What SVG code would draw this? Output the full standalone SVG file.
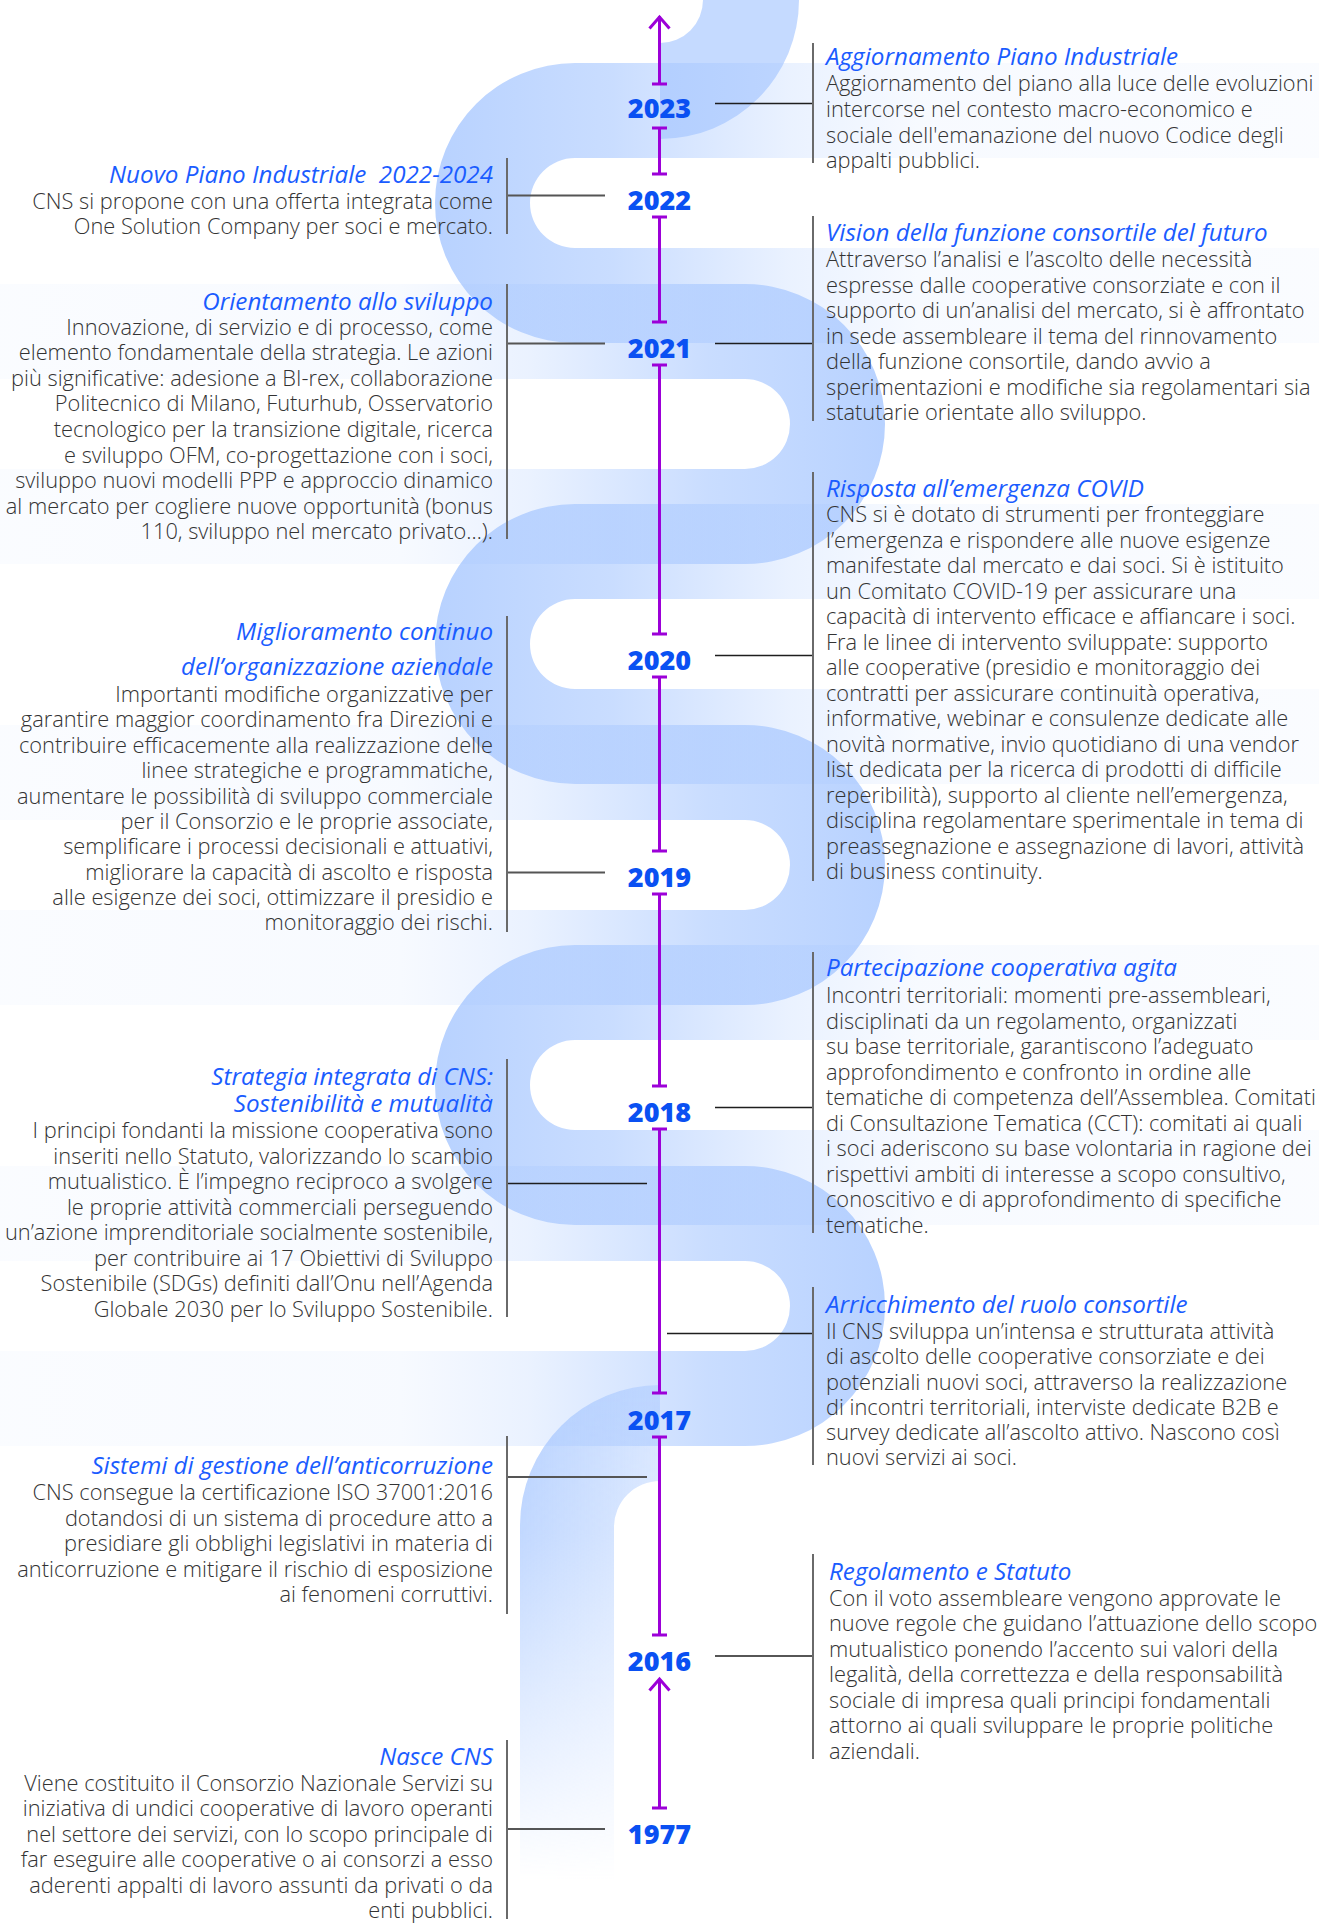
<svg xmlns="http://www.w3.org/2000/svg" width="1319" height="1932" viewBox="0 0 1319 1932">
  <style>
    .body { font-family: "Open Sans", "Liberation Sans", sans-serif; font-weight: 300; font-size: 21.8px; fill: #333333; }
    .title { font-family: "Open Sans", "Liberation Sans", sans-serif; font-style: italic; font-weight: 400; font-size: 24.2px; fill: #1a5cff; }
    .year { font-family: "Open Sans", "Liberation Sans", sans-serif; font-weight: 800; font-size: 27px; fill: #0a50f2; text-anchor: middle; }
    .left { text-anchor: end; }
    .axis { stroke: #9c00d8; stroke-width: 3; fill: none; stroke-linecap: butt; }
    .bracket { stroke: #6a6a6a; stroke-width: 2; fill: none; }
    .link { stroke: #1e1e1e; stroke-width: 1.6; fill: none; }
    .link-soft { stroke: #555555; stroke-width: 2; fill: none; }
  </style>
  <defs>
    <!-- turns opening to the right: strongest at the bend, fading to the right edge -->
    <linearGradient id="fadeRight" gradientUnits="userSpaceOnUse" x1="435" y1="0" x2="1319" y2="0">
      <stop offset="0" stop-color="#9fc2ff" stop-opacity="0.74"/>
      <stop offset="0.2" stop-color="#9fc2ff" stop-opacity="0.56"/>
      <stop offset="0.4" stop-color="#9fc2ff" stop-opacity="0.22"/>
      <stop offset="0.55" stop-color="#9fc2ff" stop-opacity="0.08"/>
      <stop offset="1" stop-color="#9fc2ff" stop-opacity="0.05"/>
    </linearGradient>
    <!-- turns opening to the left: strongest at the bend, fading to the left edge -->
    <linearGradient id="fadeLeft" gradientUnits="userSpaceOnUse" x1="885" y1="0" x2="0" y2="0">
      <stop offset="0" stop-color="#9fc2ff" stop-opacity="0.74"/>
      <stop offset="0.2" stop-color="#9fc2ff" stop-opacity="0.56"/>
      <stop offset="0.4" stop-color="#9fc2ff" stop-opacity="0.22"/>
      <stop offset="0.55" stop-color="#9fc2ff" stop-opacity="0.08"/>
      <stop offset="1" stop-color="#9fc2ff" stop-opacity="0.05"/>
    </linearGradient>
    <linearGradient id="tailFill" gradientUnits="userSpaceOnUse" x1="520" y1="0" x2="660" y2="0">
      <stop offset="0" stop-color="#9fc2ff" stop-opacity="0.75"/>
      <stop offset="1" stop-color="#9fc2ff" stop-opacity="0.4"/>
    </linearGradient>
    <linearGradient id="tailFade" gradientUnits="userSpaceOnUse" x1="0" y1="1385" x2="0" y2="1880">
      <stop offset="0" stop-color="#ffffff"/>
      <stop offset="0.3" stop-color="#ffffff" stop-opacity="0.85"/>
      <stop offset="1" stop-color="#ffffff" stop-opacity="0"/>
    </linearGradient>
    <mask id="tailMask" maskUnits="userSpaceOnUse" x="0" y="1300" width="1319" height="632">
      <rect x="0" y="1300" width="1319" height="632" fill="url(#tailFade)"/>
    </mask>
  </defs>

  <rect width="1319" height="1932" fill="#ffffff"/>

  <!-- serpentine ribbon behind the timeline -->
  <g id="ribbon">
    <path d="M703 0 A43 43 0 0 1 660 43 L660 139 A139 139 0 0 0 799 0 Z" fill="#9fc2ff" fill-opacity="0.6"/>
    <path d="M1319 63 L575 63 A140 140 0 0 0 575 343 L1319 343 L1319 248 L575 248 A45 45 0 0 1 575 158 L1319 158 Z" fill="url(#fadeRight)"/>
    <path d="M0 284 L745 284 A140 140 0 0 1 745 564 L0 564 L0 469 L745 469 A45 45 0 0 0 745 379 L0 379 Z" fill="url(#fadeLeft)"/>
    <path d="M1319 504 L575 504 A140 140 0 0 0 575 784 L1319 784 L1319 689 L575 689 A45 45 0 0 1 575 599 L1319 599 Z" fill="url(#fadeRight)"/>
    <path d="M0 725 L745 725 A140 140 0 0 1 745 1005 L0 1005 L0 910 L745 910 A45 45 0 0 0 745 820 L0 820 Z" fill="url(#fadeLeft)"/>
    <path d="M1319 945 L575 945 A140 140 0 0 0 575 1225 L1319 1225 L1319 1130 L575 1130 A45 45 0 0 1 575 1040 L1319 1040 Z" fill="url(#fadeRight)"/>
    <path d="M0 1166 L745 1166 A140 140 0 0 1 745 1446 L0 1446 L0 1351 L745 1351 A45 45 0 0 0 745 1261 L0 1261 Z" fill="url(#fadeLeft)"/>
    <path d="M660 1385 A140 140 0 0 0 520 1525 L520 1880 L614 1880 L614 1527 A46 46 0 0 1 660 1481 Z" fill="url(#tailFill)" mask="url(#tailMask)"/>
  </g>

  <!-- vertical time axis -->
  <g id="axis" class="axis">
    <path d="M659.5 16 L659.5 84 M652 84 L667 84 M649.5 28.5 L659.5 17 L669.5 28.5"/>
    <path d="M659.5 128 L659.5 174 M652 128 L667 128 M652 174 L667 174"/>
    <path d="M659.5 217 L659.5 322 M652 217 L667 217 M652 322 L667 322"/>
    <path d="M659.5 365 L659.5 634 M652 365 L667 365 M652 634 L667 634"/>
    <path d="M659.5 677 L659.5 851 M652 677 L667 677 M652 851 L667 851"/>
    <path d="M659.5 894 L659.5 1086 M652 894 L667 894 M652 1086 L667 1086"/>
    <path d="M659.5 1129 L659.5 1393 M652 1129 L667 1129 M652 1393 L667 1393"/>
    <path d="M659.5 1437 L659.5 1635 M652 1437 L667 1437 M652 1635 L667 1635"/>
    <path d="M659.5 1679 L659.5 1808 M652 1808 L667 1808 M649.5 1690.5 L659.5 1679 L669.5 1690.5"/>
  </g>

  <!-- connectors from the years to the text blocks -->
  <g id="connectors">
    <line class="link" x1="715" y1="103.5" x2="813" y2="103.5"/>
    <line class="link-soft" x1="507" y1="195.5" x2="605" y2="195.5"/>
    <line class="link-soft" x1="507" y1="343.5" x2="605" y2="343.5"/>
    <line class="link" x1="715" y1="343.5" x2="813" y2="343.5"/>
    <line class="link" x1="715" y1="655.5" x2="813" y2="655.5"/>
    <line class="link-soft" x1="507" y1="872.5" x2="605" y2="872.5"/>
    <line class="link" x1="715" y1="1107.5" x2="813" y2="1107.5"/>
    <line class="link" x1="507" y1="1183.5" x2="647" y2="1183.5"/>
    <line class="link" x1="667" y1="1333.5" x2="813" y2="1333.5"/>
    <line class="link-soft" x1="507" y1="1477" x2="647" y2="1477"/>
    <line class="link" x1="715" y1="1656" x2="813" y2="1656"/>
    <line class="link" x1="507" y1="1829" x2="605" y2="1829"/>
  </g>

  <!-- year labels -->
  <g id="years">
    <text id="y2023" class="year" x="659.5" y="117.5">2023</text>
    <text id="y2022" class="year" x="659.5" y="210">2022</text>
    <text id="y2021" class="year" x="659.5" y="357.5">2021</text>
    <text id="y2020" class="year" x="659.5" y="670">2020</text>
    <text id="y2019" class="year" x="659.5" y="886.5">2019</text>
    <text id="y2018" class="year" x="659.5" y="1121.5">2018</text>
    <text id="y2017" class="year" x="659.5" y="1430">2017</text>
    <text id="y2016" class="year" x="659.5" y="1671">2016</text>
    <text id="y1977" class="year" x="659.5" y="1844">1977</text>
  </g>

  <!-- right-hand milestones -->
  <g id="aggiornamento-piano">
    <line class="bracket" x1="813" y1="43" x2="813" y2="163"/>
    <text class="title" x="826" y="65">Aggiornamento Piano Industriale</text>
    <text class="body"><tspan x="826" y="91">Aggiornamento del piano alla luce delle evoluzioni</tspan><tspan x="826" y="117">intercorse nel contesto macro-economico e</tspan><tspan x="826" y="143">sociale dell'emanazione del nuovo Codice degli</tspan><tspan x="826" y="168">appalti pubblici.</tspan></text>
  </g>

  <g id="vision-funzione-consortile">
    <line class="bracket" x1="813" y1="216" x2="813" y2="421"/>
    <text class="title" x="826" y="241">Vision della funzione consortile del futuro</text>
    <text class="body"><tspan x="826" y="267">Attraverso l’analisi e l’ascolto delle necessità</tspan><tspan x="826" y="293">espresse dalle cooperative consorziate e con il</tspan><tspan x="826" y="318">supporto di un’analisi del mercato, si è affrontato</tspan><tspan x="826" y="344">in sede assembleare il tema del rinnovamento</tspan><tspan x="826" y="369">della funzione consortile, dando avvio a</tspan><tspan x="826" y="395">sperimentazioni e modifiche sia regolamentari sia</tspan><tspan x="826" y="420">statutarie orientate allo sviluppo.</tspan></text>
  </g>

  <g id="risposta-covid">
    <line class="bracket" x1="813" y1="472" x2="813" y2="881"/>
    <text class="title" x="826" y="497">Risposta all’emergenza COVID</text>
    <text class="body"><tspan x="826" y="522">CNS si è dotato di strumenti per fronteggiare</tspan><tspan x="826" y="547.5">l’emergenza e rispondere alle nuove esigenze</tspan><tspan x="826" y="573">manifestate dal mercato e dai soci. Si è istituito</tspan><tspan x="826" y="598.5">un Comitato COVID-19 per assicurare una</tspan><tspan x="826" y="624">capacità di intervento efficace e affiancare i soci.</tspan><tspan x="826" y="649.5">Fra le linee di intervento sviluppate: supporto</tspan><tspan x="826" y="675">alle cooperative (presidio e monitoraggio dei</tspan><tspan x="826" y="700.5">contratti per assicurare continuità operativa,</tspan><tspan x="826" y="726">informative, webinar e consulenze dedicate alle</tspan><tspan x="826" y="751.5">novità normative, invio quotidiano di una vendor</tspan><tspan x="826" y="777">list dedicata per la ricerca di prodotti di difficile</tspan><tspan x="826" y="802.5">reperibilità), supporto al cliente nell’emergenza,</tspan><tspan x="826" y="828">disciplina regolamentare sperimentale in tema di</tspan><tspan x="826" y="853.5">preassegnazione e assegnazione di lavori, attività</tspan><tspan x="826" y="879">di business continuity.</tspan></text>
  </g>

  <g id="partecipazione-cooperativa">
    <line class="bracket" x1="813" y1="952" x2="813" y2="1233"/>
    <text class="title" x="826" y="976">Partecipazione cooperativa agita</text>
    <text class="body"><tspan x="826" y="1003">Incontri territoriali: momenti pre-assembleari,</tspan><tspan x="826" y="1028.5">disciplinati da un regolamento, organizzati</tspan><tspan x="826" y="1054">su base territoriale, garantiscono l’adeguato</tspan><tspan x="826" y="1079.5">approfondimento e confronto in ordine alle</tspan><tspan x="826" y="1105">tematiche di competenza dell’Assemblea. Comitati</tspan><tspan x="826" y="1130.5">di Consultazione Tematica (CCT): comitati ai quali</tspan><tspan x="826" y="1156">i soci aderiscono su base volontaria in ragione dei</tspan><tspan x="826" y="1181.5">rispettivi ambiti di interesse a scopo consultivo,</tspan><tspan x="826" y="1207">conoscitivo e di approfondimento di specifiche</tspan><tspan x="826" y="1232.5">tematiche.</tspan></text>
  </g>

  <g id="arricchimento-ruolo">
    <line class="bracket" x1="813" y1="1287" x2="813" y2="1465"/>
    <text class="title" x="826" y="1313">Arricchimento del ruolo consortile</text>
    <text class="body"><tspan x="826" y="1338.5">Il CNS sviluppa un’intensa e strutturata attività</tspan><tspan x="826" y="1364">di ascolto delle cooperative consorziate e dei</tspan><tspan x="826" y="1389.5">potenziali nuovi soci, attraverso la realizzazione</tspan><tspan x="826" y="1415">di incontri territoriali, interviste dedicate B2B e</tspan><tspan x="826" y="1440">survey dedicate all’ascolto attivo. Nascono così</tspan><tspan x="826" y="1465">nuovi servizi ai soci.</tspan></text>
  </g>

  <g id="regolamento-statuto">
    <line class="bracket" x1="813" y1="1554" x2="813" y2="1759"/>
    <text class="title" x="829" y="1580">Regolamento e Statuto</text>
    <text class="body"><tspan x="829" y="1605.5">Con il voto assembleare vengono approvate le</tspan><tspan x="829" y="1631">nuove regole che guidano l’attuazione dello scopo</tspan><tspan x="829" y="1656.5">mutualistico ponendo l’accento sui valori della</tspan><tspan x="829" y="1682">legalità, della correttezza e della responsabilità</tspan><tspan x="829" y="1707.5">sociale di impresa quali principi fondamentali</tspan><tspan x="829" y="1733">attorno ai quali sviluppare le proprie politiche</tspan><tspan x="829" y="1758.5">aziendali.</tspan></text>
  </g>

  <!-- left-hand milestones -->
  <g id="nuovo-piano">
    <line class="bracket" x1="507" y1="158" x2="507" y2="234"/>
    <text class="title left" x="493" y="183">Nuovo Piano Industriale&#160; 2022-2024</text>
    <text class="body left"><tspan x="493" y="208.5">CNS si propone con una offerta integrata come</tspan><tspan x="493" y="234">One Solution Company per soci e mercato.</tspan></text>
  </g>

  <g id="orientamento-sviluppo">
    <line class="bracket" x1="507" y1="284" x2="507" y2="539"/>
    <text class="title left" x="493" y="309.5">Orientamento allo sviluppo</text>
    <text class="body left"><tspan x="493" y="334.5">Innovazione, di servizio e di processo, come</tspan><tspan x="493" y="360">elemento fondamentale della strategia. Le azioni</tspan><tspan x="493" y="385.5">più significative: adesione a BI-rex, collaborazione</tspan><tspan x="493" y="411">Politecnico di Milano, Futurhub, Osservatorio</tspan><tspan x="493" y="437">tecnologico per la transizione digitale, ricerca</tspan><tspan x="493" y="462.5">e sviluppo OFM, co-progettazione con i soci,</tspan><tspan x="493" y="488">sviluppo nuovi modelli PPP e approccio dinamico</tspan><tspan x="493" y="513.5">al mercato per cogliere nuove opportunità (bonus</tspan><tspan x="493" y="539">110, sviluppo nel mercato privato…).</tspan></text>
  </g>

  <g id="miglioramento-continuo">
    <line class="bracket" x1="507" y1="616" x2="507" y2="932"/>
    <text class="title left"><tspan x="493" y="640">Miglioramento continuo</tspan><tspan x="493" y="675">dell’organizzazione aziendale</tspan></text>
    <text class="body left"><tspan x="493" y="701.5">Importanti modifiche organizzative per</tspan><tspan x="493" y="727">garantire maggior coordinamento fra Direzioni e</tspan><tspan x="493" y="752.5">contribuire efficacemente alla realizzazione delle</tspan><tspan x="493" y="778">linee strategiche e programmatiche,</tspan><tspan x="493" y="803.5">aumentare le possibilità di sviluppo commerciale</tspan><tspan x="493" y="829">per il Consorzio e le proprie associate,</tspan><tspan x="493" y="854">semplificare i processi decisionali e attuativi,</tspan><tspan x="493" y="879.5">migliorare la capacità di ascolto e risposta</tspan><tspan x="493" y="905">alle esigenze dei soci, ottimizzare il presidio e</tspan><tspan x="493" y="930">monitoraggio dei rischi.</tspan></text>
  </g>

  <g id="strategia-integrata">
    <line class="bracket" x1="507" y1="1059" x2="507" y2="1317"/>
    <text class="title left"><tspan x="493" y="1085">Strategia integrata di CNS:</tspan><tspan x="493" y="1111.5">Sostenibilità e mutualità</tspan></text>
    <text class="body left"><tspan x="493" y="1138">I principi fondanti la missione cooperativa sono</tspan><tspan x="493" y="1163.5">inseriti nello Statuto, valorizzando lo scambio</tspan><tspan x="493" y="1189">mutualistico. È l’impegno reciproco a svolgere</tspan><tspan x="493" y="1214.5">le proprie attività commerciali perseguendo</tspan><tspan x="493" y="1240">un’azione imprenditoriale socialmente sostenibile,</tspan><tspan x="493" y="1265.5">per contribuire ai 17 Obiettivi di Sviluppo</tspan><tspan x="493" y="1291">Sostenibile (SDGs) definiti dall’Onu nell’Agenda</tspan><tspan x="493" y="1316.5">Globale 2030 per lo Sviluppo Sostenibile.</tspan></text>
  </g>

  <g id="sistemi-anticorruzione">
    <line class="bracket" x1="507" y1="1436" x2="507" y2="1614"/>
    <text class="title left" x="493" y="1473.5">Sistemi di gestione dell’anticorruzione</text>
    <text class="body left"><tspan x="493" y="1500">CNS consegue la certificazione ISO 37001:2016</tspan><tspan x="493" y="1525.5">dotandosi di un sistema di procedure atto a</tspan><tspan x="493" y="1551">presidiare gli obblighi legislativi in materia di</tspan><tspan x="493" y="1576.5">anticorruzione e mitigare il rischio di esposizione</tspan><tspan x="493" y="1602">ai fenomeni corruttivi.</tspan></text>
  </g>

  <g id="nasce-cns">
    <line class="bracket" x1="507" y1="1740" x2="507" y2="1919"/>
    <text class="title left" x="493" y="1765">Nasce CNS</text>
    <text class="body left"><tspan x="493" y="1790.5">Viene costituito il Consorzio Nazionale Servizi su</tspan><tspan x="493" y="1816">iniziativa di undici cooperative di lavoro operanti</tspan><tspan x="493" y="1841.5">nel settore dei servizi, con lo scopo principale di</tspan><tspan x="493" y="1867">far eseguire alle cooperative o ai consorzi a esso</tspan><tspan x="493" y="1892.5">aderenti appalti di lavoro assunti da privati o da</tspan><tspan x="493" y="1918">enti pubblici.</tspan></text>
  </g>
</svg>
